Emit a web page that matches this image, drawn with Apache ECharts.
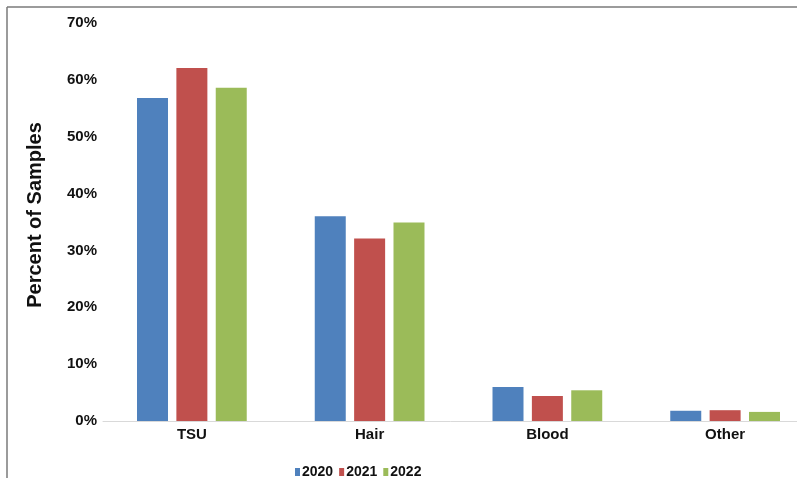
<!DOCTYPE html>
<html>
<head>
<meta charset="utf-8">
<script src="https://cdn.jsdelivr.net/npm/echarts@6/dist/echarts.min.js"></script>
<style>html,body{margin:0;padding:0;background:#fff;}#c{width:797px;height:478px;}</style>
</head>
<body>
<div id="c"></div>
<script>
const categories = ['TSU', 'Hair', 'Blood', 'Other'];
const years = ['2020', '2021', '2022'];
const v2020 = [56.8, 36.0, 6.0, 1.8];
const v2021 = [62.1, 32.1, 4.4, 1.9];
const v2022 = [58.6, 34.9, 5.4, 1.6];
const yTicks = [0, 10, 20, 30, 40, 50, 60, 70];
const colors = ['#4f81bd', '#c0504d', '#9bbb59'];

const font = 'Liberation Sans, Arial, sans-serif';
const chart = echarts.init(document.getElementById('c'));
const seriesData = [v2020, v2021, v2022];
chart.setOption({
  animation: false,
  color: colors,
  graphic: [
    { type: 'line', shape: { x1: 7, y1: 7, x2: 797, y2: 7 }, style: { stroke: '#7a7a7a', lineWidth: 1.5 } },
    { type: 'line', shape: { x1: 7, y1: 7, x2: 7, y2: 478 }, style: { stroke: '#7a7a7a', lineWidth: 1.5 } }
  ],
  grid: { left: 103, width: 711, top: 23, bottom: 57, outerBoundsMode: 'none', containLabel: false },
  legend: {
    data: years,
    left: 290,
    top: 460,
    itemWidth: 5,
    itemHeight: 8,
    itemGap: 6,
    icon: 'rect',
    textStyle: { fontFamily: font, fontWeight: 'bold', fontSize: 14, color: '#111', padding: [0, 0, 0, -3] }
  },
  xAxis: {
    type: 'category',
    data: categories,
    axisLine: { lineStyle: { color: '#d9d9d9', width: 1 } },
    axisTick: { show: false },
    axisLabel: { fontFamily: font, fontWeight: 'bold', fontSize: 15, color: '#111', margin: 6 }
  },
  yAxis: {
    type: 'value',
    min: 0,
    max: 70,
    interval: 10,
    name: 'Percent of Samples',
    nameLocation: 'middle',
    nameGap: 58,
    nameTextStyle: { fontFamily: font, fontWeight: 'bold', fontSize: 20, color: '#111', padding: [0, 0, 0, 14] },
    splitLine: { show: false },
    axisLine: { show: false },
    axisTick: { show: false },
    axisLabel: {
      fontFamily: font, fontWeight: 'bold', fontSize: 15, color: '#111', margin: 6,
      formatter: v => yTicks.includes(v) ? v + '%' : ''
    }
  },
  series: years.map((y, i) => ({
    name: y,
    type: 'bar',
    data: seriesData[i],
    barWidth: 31,
    barGap: '27%',
    itemStyle: { color: colors[i] }
  }))
});
</script>
</body>
</html>
